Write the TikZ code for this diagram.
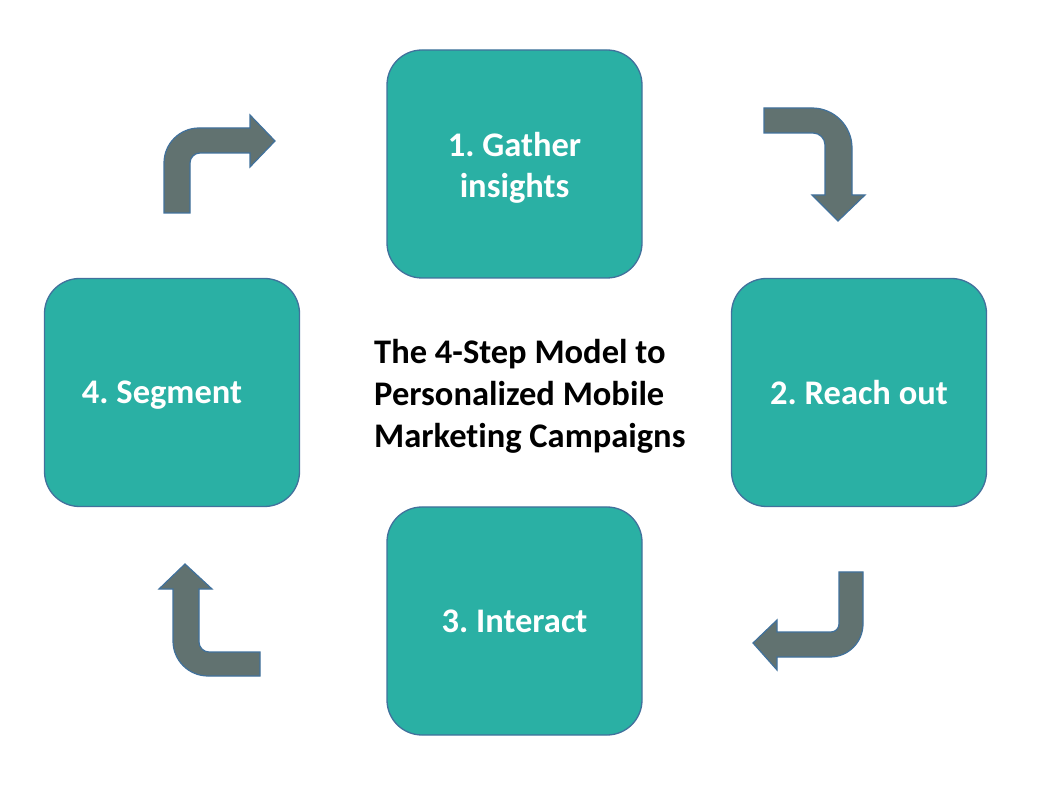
\documentclass[tikz,border=0pt]{standalone}
\usepackage{fontspec}
\setmainfont{Carlito}[Ligatures=NoCommon]
\definecolor{boxfill}{HTML}{2AB0A4}
\definecolor{boxline}{HTML}{41719C}
\definecolor{arrfill}{HTML}{617270}
\begin{document}
\frenchspacing
\begin{tikzpicture}[x=1pt,y=1pt,
  stepbox/.style={draw=boxline, line width=1.3pt, fill=boxfill, rounded corners=35pt,
    minimum width=255pt, minimum height=228pt, text=white, align=center,
    font=\fontsize{34.5}{41}\selectfont\bfseries\frenchspacing},
  bent/.style={draw=boxline, line width=1.2pt, fill=arrfill, line join=miter}]
\useasboundingbox (0,0) rectangle (1038,790);
\node[stepbox] (s1) at (514.5,626) {};
\node[text=white, align=center, font=\fontsize{34.5}{41}\selectfont\bfseries\frenchspacing] (s1t) at (514.5,622) {1. Gather\\insights};
\node[stepbox] (s2) at (859,397.5) {2. Reach out};
\node[stepbox] (s3) at (514.5,169) {3. Interact};
\node[stepbox] (s4) at (172,397.5) {};
\node[text=white, font=\fontsize{34.5}{41}\selectfont\bfseries\frenchspacing] (s4t) at (162,394.5) {4. Segment};
\node[align=left, anchor=west, inner sep=0pt, font=\fontsize{34.5}{42}\selectfont\bfseries\frenchspacing] (title) at (374,394)
  {The 4-Step Model to\\Personalized Mobile\\Marketing Campaigns};
% arrow 4 -> 1
\draw[bent] (164,577) -- (164,627) arc(180:90:35) -- (250,662) -- (250,675) -- (275,649)
  -- (250,623) -- (250,637) -- (200,637) arc(90:180:10) -- (190,577) -- cycle;
% arrow 1 -> 2
\draw[bent] (764,682) -- (812,682) arc(90:0:40) -- (852,595) -- (865,595) -- (838,569)
  -- (812,595) -- (825,595) -- (825,645) arc(0:90:12) -- (764,657) -- cycle;
% arrow 2 -> 3
\draw[bent] (863,218) -- (863,166) arc(0:-90:33) -- (777,133) -- (777,120) -- (753,147)
  -- (777,170) -- (777,158) -- (831,158) arc(-90:0:8) -- (839,218) -- cycle;
% arrow 3 -> 4
\draw[bent] (260,114) -- (208,114) arc(270:180:35) -- (173,201) -- (159,201) -- (185,226)
  -- (212,201) -- (199,201) -- (199,148) arc(180:270:10) -- (260,138) -- cycle;
\end{tikzpicture}
\end{document}
